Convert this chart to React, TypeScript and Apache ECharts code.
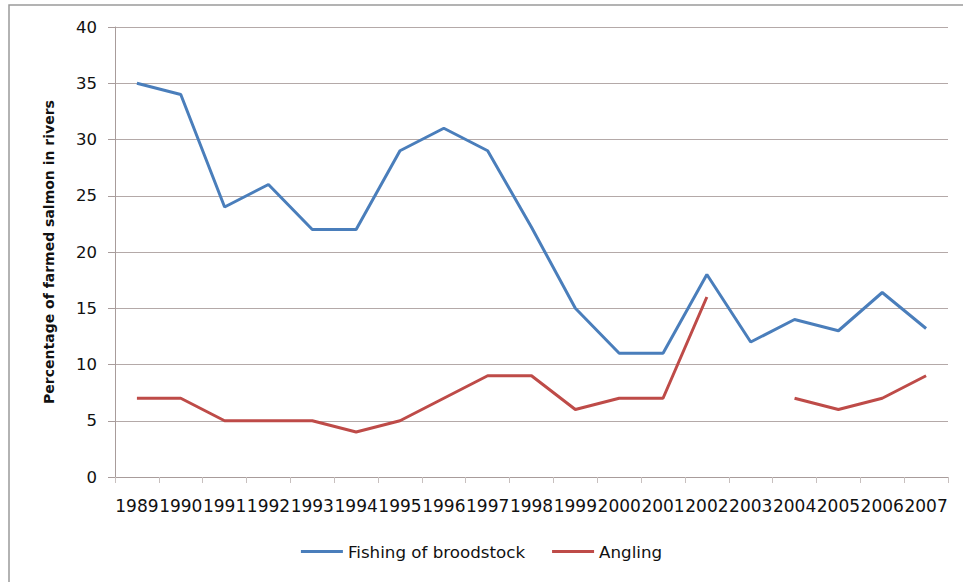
import React, { useEffect, useRef } from "react";
import * as echarts from "echarts";

// Years on the category axis
const years = [
  "1989", "1990", "1991", "1992", "1993", "1994", "1995", "1996", "1997", "1998",
  "1999", "2000", "2001", "2002", "2003", "2004", "2005", "2006", "2007",
];

// Share of farmed salmon (%) found by fishing of broodstock
const broodstock = [35, 34, 24, 26, 22, 22, 29, 31, 29, 22.2, 15, 11, 11, 18, 12, 14, 13, 16.4, 13.2];

// Share of farmed salmon (%) found in angling catches (no figure for 2003)
const angling: (number | null)[] = [7, 7, 5, 5, 5, 4, 5, 7, 9, 9, 6, 7, 7, 16, null, 7, 6, 7, 9];

const yTicks = { min: 0, max: 40, interval: 5 };

const BLUE = "#4a7ebb";
const RED = "#be4b48";
const GRID = "#b4a9a8";
const FONT = "DejaVu Sans";
const INK = "#111111";

export default function App() {
  const ref = useRef<HTMLDivElement>(null);

  useEffect(() => {
    if (!ref.current) return;
    const chart = echarts.init(ref.current, undefined, { renderer: "svg" });
    chart.setOption({
      animation: false,
      backgroundColor: "#ffffff",
      graphic: [
        {
          type: "rect",
          shape: { x: 9, y: 5, width: 1200, height: 800 },
          style: { fill: "none", stroke: "#9a9a9a", lineWidth: 1.5 },
          silent: true,
        },
      ],
      grid: { left: 115, right: 15, top: 27, bottom: 105, containLabel: false },
      legend: {
        bottom: 17,
        left: "center",
        icon: "rect",
        itemWidth: 42,
        itemHeight: 3,
        itemGap: 27,
        textStyle: { fontFamily: FONT, fontSize: 16.7, color: INK },
        data: ["Fishing of broodstock", "Angling"],
      },
      xAxis: {
        type: "category",
        data: years,
        boundaryGap: true,
        axisLine: { lineStyle: { color: "#a89c9b", width: 1 } },
        axisTick: { show: true, length: 6, lineStyle: { color: "#c8c0bf" } },
        axisLabel: {
          interval: 0,
          margin: 20,
          fontFamily: FONT,
          fontSize: 17,
          color: INK,
        },
      },
      yAxis: {
        type: "value",
        min: yTicks.min,
        max: yTicks.max,
        interval: yTicks.interval,
        name: "Percentage of farmed salmon in rivers",
        nameLocation: "middle",
        nameGap: 59,
        nameRotate: 90,
        nameTextStyle: {
          fontFamily: FONT,
          fontSize: 14,
          fontWeight: "bold",
          color: INK,
        },
        axisLine: { show: true, lineStyle: { color: "#a89c9b", width: 1 } },
        axisTick: { show: true, length: 7, lineStyle: { color: "#a89c9b" } },
        axisLabel: { margin: 18, fontFamily: FONT, fontSize: 16.5, color: INK },
        splitLine: { show: true, lineStyle: { color: GRID, width: 1.2 } },
      },
      series: [
        {
          name: "Fishing of broodstock",
          type: "line",
          data: broodstock,
          symbol: "none",
          lineStyle: { color: BLUE, width: 3 },
          itemStyle: { color: BLUE },
        },
        {
          name: "Angling",
          type: "line",
          data: angling,
          connectNulls: false,
          symbol: "none",
          lineStyle: { color: RED, width: 3 },
          itemStyle: { color: RED },
        },
      ],
    });
    return () => chart.dispose();
  }, []);

  return (
    <div
      ref={ref}
      style={{ position: "fixed", left: 0, top: 0, width: 963, height: 582, background: "#fff" }}
    />
  );
}
